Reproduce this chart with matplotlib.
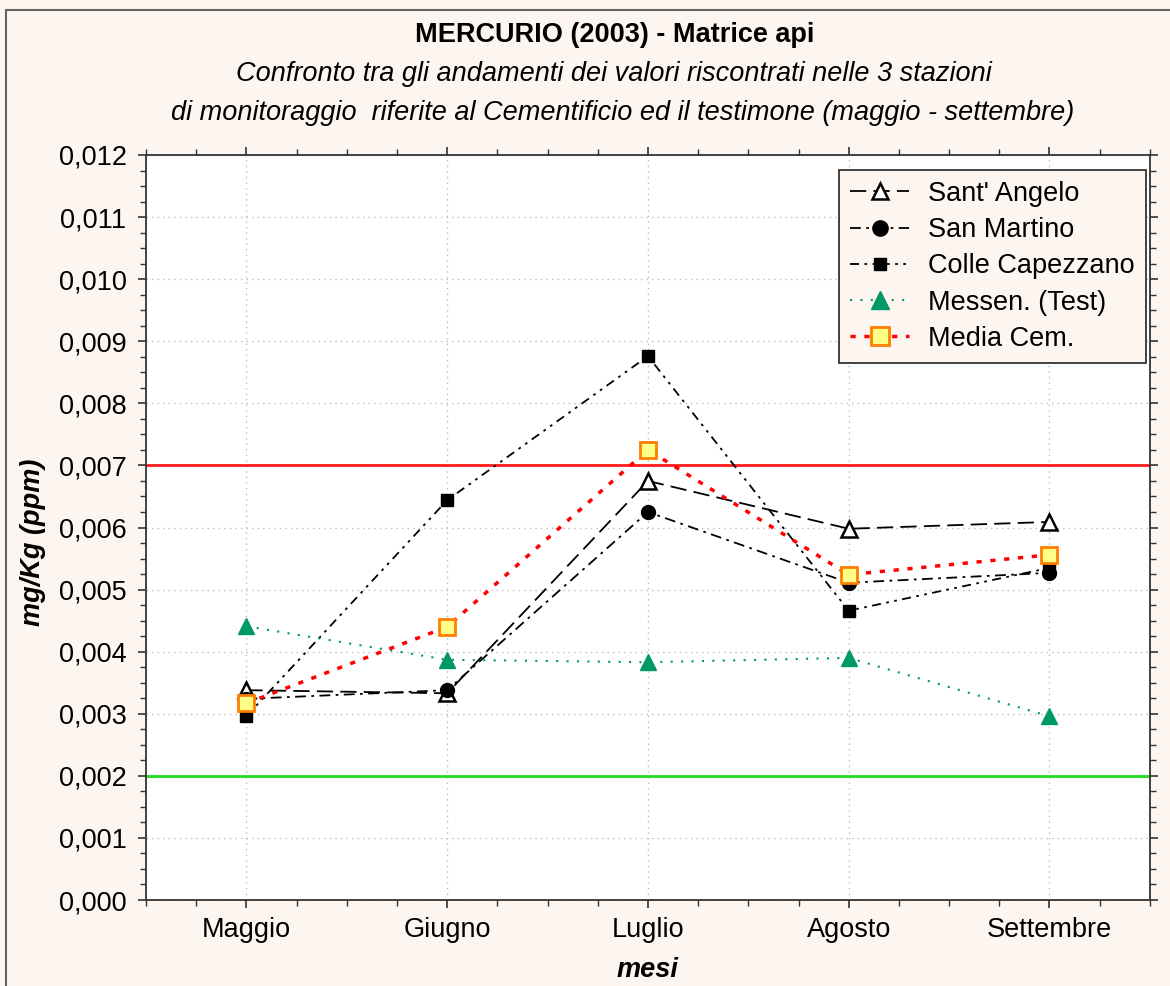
import matplotlib.pyplot as plt
from matplotlib.patches import Rectangle
from matplotlib.ticker import FuncFormatter, MultipleLocator

plt.rcParams["font.family"] = ["Liberation Sans", "DejaVu Sans"]

mesi = ["Maggio", "Giugno", "Luglio", "Agosto", "Settembre"]
sant_angelo = [0.00338, 0.00333, 0.00675, 0.00598, 0.00609]
san_martino = [0.00324, 0.00338, 0.00625, 0.00511, 0.00527]
colle_capezzano = [0.00296, 0.00644, 0.00876, 0.00466, 0.00535]
messen_test = [0.00441, 0.00387, 0.00383, 0.00390, 0.00296]
media_cem = [0.00317, 0.00440, 0.00725, 0.00524, 0.00556]
limite_alto = 0.007
limite_basso = 0.002

FS = 19.5

fig = plt.figure(figsize=(11.7, 9.86), dpi=100, facecolor="#fdf6f0")
ax = fig.add_axes([0.1248, 0.0872, 0.858, 0.7556])
ax.set_facecolor("white")

x = list(range(len(mesi)))
ax.axhline(limite_alto, color="#ff1a1a", lw=2, zorder=2)
ax.axhline(limite_basso, color="#22dd22", lw=2, zorder=2)

ax.plot(x, sant_angelo, color="black", lw=1.3, dashes=(9, 4),
        marker="^", ms=11, mfc="white", mec="black", mew=1.8,
        label="Sant' Angelo", zorder=4)
ax.plot(x, san_martino, color="black", lw=1.3, dashes=(6, 3, 1.5, 3),
        marker="o", ms=10, mfc="black", mec="black",
        label="San Martino", zorder=4)
ax.plot(x, colle_capezzano, color="black", lw=1.3, dashes=(5, 3, 1.5, 3, 1.5, 3),
        marker="s", ms=8, mfc="black", mec="black",
        label="Colle Capezzano", zorder=3)
ax.plot(x, messen_test, color="#009966", lw=1.5, dashes=(1, 4),
        marker="^", ms=12, mfc="#009966", mec="#009966",
        label="Messen. (Test)", zorder=4)
ax.plot(x, media_cem, color="#ff0000", lw=2.5, dashes=(1.5, 2.5),
        marker="s", ms=12, mfc="#ffff88", mec="#ff8000", mew=2,
        label="Media Cem.", zorder=5)

ax.set_xlim(-0.5, len(mesi) - 0.5)
ax.set_ylim(0, 0.012)
ax.set_xticks(x)
ax.set_xticklabels(mesi)
ax.xaxis.set_minor_locator(MultipleLocator(0.25))
ax.yaxis.set_major_locator(MultipleLocator(0.001))
ax.yaxis.set_minor_locator(MultipleLocator(0.00025))
ax.yaxis.set_major_formatter(FuncFormatter(lambda v, p: f"{v:.3f}".replace(".", ",")))
ax.tick_params(which="both", direction="out", top=True, right=True, labelsize=FS, color="#333333")
ax.tick_params(which="major", length=6, width=1.2, pad=8)
ax.tick_params(which="minor", length=4, width=1.0)
ax.tick_params(axis="x", which="major", pad=6)
for s in ax.spines.values():
    s.set_linewidth(1.3)
    s.set_color("#333333")
ax.grid(True, which="major", color="#bbbbbb", ls=(0, (1, 3)), lw=1)

ax.set_ylabel("mg/Kg (ppm)", fontsize=FS, fontweight="bold", fontstyle="italic")
ax.yaxis.set_label_coords(-0.1, 0.48)
ax.set_xlabel("mesi", fontsize=FS, fontweight="bold", fontstyle="italic", labelpad=10)

fig.text(0.525, 0.965, "MERCURIO (2003) - Matrice api", ha="center", va="center",
         fontsize=FS, fontweight="bold")
fig.text(0.525, 0.925, "Confronto tra gli andamenti dei valori riscontrati nelle 3 stazioni",
         ha="center", va="center", fontsize=FS, fontstyle="italic")
fig.text(0.532, 0.885, "di monitoraggio  riferite al Cementificio ed il testimone (maggio - settembre)",
         ha="center", va="center", fontsize=FS, fontstyle="italic")

leg = ax.legend(loc="upper right", bbox_to_anchor=(0.996, 0.98), borderaxespad=0,
                fontsize=FS, frameon=True, fancybox=False, facecolor="#fdf6f0",
                edgecolor="#222222", framealpha=1, handlelength=2.2, handletextpad=0.7,
                borderpad=0.4, labelspacing=0.38, markerscale=1.1)
leg.get_frame().set_linewidth(1.2)

fig.patches.append(Rectangle((0.005, -0.01), 1.2, 1.0, transform=fig.transFigure,
                             fill=False, edgecolor="#666666", lw=1.5))

fig.savefig("out.png", dpi=100, facecolor=fig.get_facecolor())
